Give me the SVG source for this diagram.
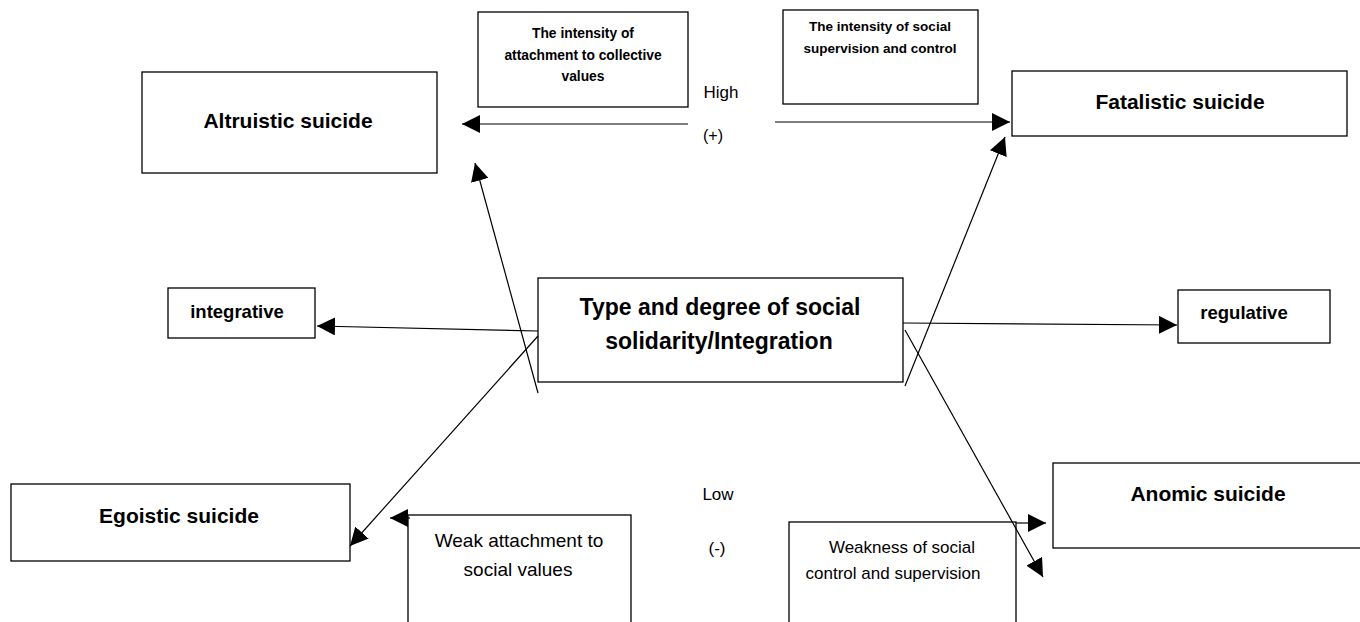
<svg xmlns="http://www.w3.org/2000/svg" width="1360" height="622" viewBox="0 0 1360 622">
<defs>
<marker id="ah" viewBox="0 0 10 10" refX="10" refY="5" markerWidth="18" markerHeight="18" markerUnits="userSpaceOnUse" orient="auto"><path d="M0,0 L10,5 L0,10 z" fill="#000"/></marker>
<style>
.box{fill:#fff;stroke:#000;stroke-width:1.3}
.t{font-family:"Liberation Sans",Arial,sans-serif;fill:#000;text-anchor:middle}
.b{font-weight:bold}
.big{font-size:21px}
.mid{font-size:23px}
.sm{font-size:13.8px}
.reg{font-size:19px}
.con{stroke:#000;stroke-width:1.2;fill:none;marker-end:url(#ah)}
</style>
</defs>
<rect width="1360" height="622" fill="#fff"/>
<g id="altruistic"><rect class="box" x="142" y="72" width="295" height="101"/><text class="t b big" x="288" y="128">Altruistic suicide</text></g>
<g id="attachment"><rect class="box" x="478" y="12" width="210" height="95"/><text class="t b sm" x="583" y="38">The intensity of</text><text class="t b sm" x="583" y="60">attachment to collective</text><text class="t b sm" x="583" y="81">values</text></g>
<g id="supervision"><rect class="box" x="783" y="10" width="195" height="94"/><text class="t b" style="font-size:13.5px" x="880" y="31">The intensity of social</text><text class="t b" style="font-size:13.5px" x="880" y="53">supervision and control</text></g>
<g id="fatalistic"><rect class="box" x="1012" y="71" width="335" height="65"/><text class="t b big" x="1180" y="109">Fatalistic suicide</text></g>
<g id="integrative"><rect class="box" x="168" y="288" width="147" height="50"/><text class="t b" style="font-size:18.5px" x="237" y="318">integrative</text></g>
<g id="central"><rect class="box" x="538" y="278" width="365" height="104"/><text class="t b mid" x="720" y="315">Type and degree of social</text><text class="t b mid" x="719" y="349">solidarity/Integration</text></g>
<g id="regulative"><rect class="box" x="1178" y="290" width="152" height="53"/><text class="t b" style="font-size:18.5px" x="1244" y="319">regulative</text></g>
<g id="egoistic"><rect class="box" x="11" y="484" width="339" height="77"/><text class="t b big" x="179" y="523">Egoistic suicide</text></g>
<g id="weak-attachment"><rect class="box" x="408" y="515" width="223" height="115"/><text class="t reg" x="519" y="547">Weak attachment to</text><text class="t reg" x="518" y="576">social values</text></g>
<g id="weakness"><rect class="box" x="789" y="522" width="227" height="105"/><text class="t" style="font-size:17px" x="902" y="553">Weakness of social</text><text class="t" style="font-size:17px" x="893" y="579">control and supervision</text></g>
<g id="anomic"><rect class="box" x="1053" y="463" width="310" height="85"/><text class="t b big" x="1208" y="501">Anomic suicide</text></g>
<g id="labels">
<text class="t" style="font-size:17px" x="721" y="98">High</text>
<text class="t" style="font-size:16px" x="713" y="141">(+)</text>
<text class="t" style="font-size:17px" x="718" y="500">Low</text>
<text class="t" style="font-size:17px" x="717" y="554">(-)</text>
</g>
<g id="connectors">
<line class="con" x1="688" y1="124" x2="462" y2="124"/>
<line class="con" x1="775" y1="122" x2="1010" y2="122"/>
<line class="con" x1="538" y1="331" x2="317" y2="326"/>
<line class="con" x1="903" y1="323" x2="1177" y2="325"/>
<line class="con" x1="538" y1="393" x2="475" y2="163"/>
<line class="con" x1="905" y1="386" x2="1005" y2="137"/>
<line class="con" x1="538" y1="336" x2="350" y2="546"/>
<line class="con" x1="905" y1="330" x2="1043" y2="577"/>
<line class="con" x1="1016" y1="523" x2="1046" y2="523"/>
<line class="con" x1="410" y1="518" x2="390" y2="518"/>
</g>
</svg>
